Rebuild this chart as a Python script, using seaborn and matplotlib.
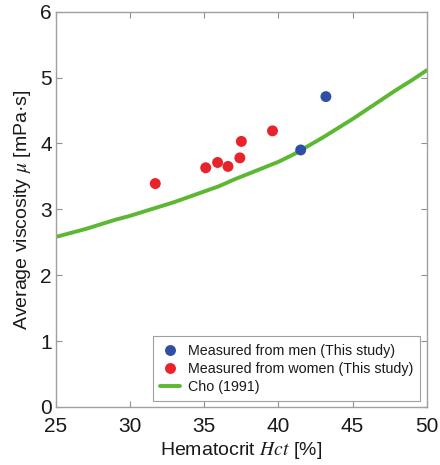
import matplotlib
matplotlib.use("Agg")
import matplotlib.pyplot as plt
import seaborn as sns
import pandas as pd

# Data
men_hct = [41.5, 43.2]
men_visc = [3.90, 4.71]
women_hct = [31.7, 35.1, 35.9, 36.6, 37.4, 37.5, 39.6]
women_visc = [3.39, 3.63, 3.71, 3.65, 3.78, 4.03, 4.19]
cho_hct = [25, 26, 27, 28, 29, 30, 31, 32, 33, 34, 35, 36, 37, 38, 39, 40,
           41, 42, 43, 44, 45, 46, 47, 48, 49, 50]
cho_visc = [2.58, 2.64, 2.70, 2.77, 2.84, 2.90, 2.97, 3.04, 3.11, 3.19, 3.27,
            3.35, 3.45, 3.54, 3.63, 3.72, 3.83, 3.96, 4.09, 4.23, 4.37, 4.52,
            4.67, 4.82, 4.96, 5.11]
x_ticks = [25, 30, 35, 40, 45, 50]
y_ticks = [0, 1, 2, 3, 4, 5, 6]

labels = ["Measured from men (This study)", "Measured from women (This study)", "Cho (1991)"]
colors = {"men": "#2f4fa5", "women": "#e8232a", "cho": "#5cb833"}

sns.set_theme(style="white")
plt.rcParams["font.family"] = ["Liberation Sans", "DejaVu Sans"]
plt.rcParams["mathtext.fontset"] = "stix"

pts = pd.DataFrame({
    "hct": men_hct + women_hct,
    "visc": men_visc + women_visc,
    "group": [labels[0]] * len(men_hct) + [labels[1]] * len(women_hct),
})
curve = pd.DataFrame({"hct": cho_hct, "visc": cho_visc, "group": labels[2]})

fig = plt.figure(figsize=(4.4, 4.65), dpi=100)
ax = fig.add_axes([0.127, 0.125, 0.843, 0.850])

sns.lineplot(data=curve, x="hct", y="visc", hue="group",
             palette={labels[2]: colors["cho"]}, linewidth=2.8, ax=ax, zorder=2)
sns.scatterplot(data=pts, x="hct", y="visc", hue="group",
                palette={labels[0]: colors["men"], labels[1]: colors["women"]},
                s=62, edgecolor="none", ax=ax, zorder=3)

ax.set_xlim(25, 50)
ax.set_ylim(0, 6)
ax.set_xticks(x_ticks)
ax.set_yticks(y_ticks)
ax.tick_params(axis="both", which="both", direction="in", length=4, width=0.8,
               colors="#909090", labelcolor="#1a1a1a", labelsize=15,
               top=True, right=True, bottom=True, left=True)
ax.tick_params(axis="x", pad=7)
ax.tick_params(axis="y", pad=3)
for s in ax.spines.values():
    s.set_color("#a0a0a0")
    s.set_linewidth(1.0)

ax.set_xlabel(r"Hematocrit $Hct$ [%]", fontsize=14, color="#1a1a1a", labelpad=3)
ax.set_ylabel(r"Average viscosity $\mu$ [mPa·s]", fontsize=14, color="#1a1a1a", labelpad=5)

handles, labs = ax.get_legend_handles_labels()
order = [labs.index(l) for l in labels]
leg = ax.legend([handles[i] for i in order], [labs[i] for i in order],
                loc="lower right", bbox_to_anchor=(0.982, 0.014), fontsize=10.3,
                frameon=True, fancybox=False, edgecolor="#a0a0a0", framealpha=1,
                handlelength=1.4, handletextpad=0.5, borderpad=0.5, labelspacing=0.3,
                borderaxespad=0)
leg.get_frame().set_linewidth(0.8)
for t in leg.get_texts():
    t.set_color("#1a1a1a")

fig.savefig("out.png", dpi=100)
